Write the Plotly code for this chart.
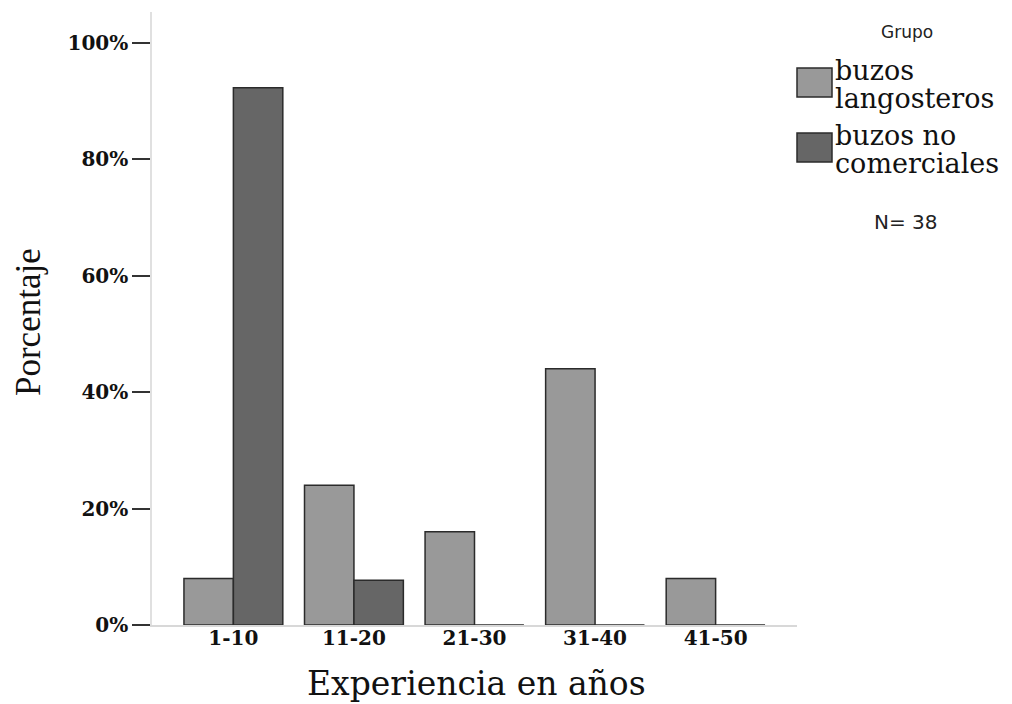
import plotly.graph_objects as go

categories = ["1-10", "11-20", "21-30", "31-40", "41-50"]
series_names = ["buzos langosteros", "buzos no comerciales"]
legend_lines = [["buzos", "langosteros"], ["buzos no", "comerciales"]]
langosteros = [8.0, 24.0, 16.0, 44.0, 8.0]
no_comerciales = [92.3, 7.7, 0.0, 0.0, 0.0]
colors = ["#999999", "#666666"]
y_ticks = [0, 20, 40, 60, 80, 100]
y_ticklabels = ["0%", "20%", "40%", "60%", "80%", "100%"]
n_total = 38

fig = go.Figure()
for name, vals, col in zip(series_names, [langosteros, no_comerciales], colors):
    fig.add_trace(go.Bar(
        x=categories, y=vals, name=name,
        marker=dict(color=col, line=dict(color="#2b2b2b", width=1.5)),
        showlegend=False,
    ))

serif = "DejaVu Serif"
sans = "DejaVu Sans"

# page body has an 8px margin: plot area sits at window x 152..797, y 12..625
fig.update_layout(
    width=1012, height=704,
    margin=dict(l=144, r=223, t=4, b=87),
    paper_bgcolor="white", plot_bgcolor="white",
    barmode="group", bargap=0.18, bargroupgap=0,
    xaxis=dict(
        range=[-0.675, 4.675], showline=True, linecolor="#d8d8d8", linewidth=1.5,
        ticks="", showgrid=False, zeroline=False, ticklabelstandoff=-6,
        tickfont=dict(family=serif, size=20, color="#111111", weight="bold"),
    ),
    yaxis=dict(
        range=[0, 105.3], showline=True, linecolor="#e0e0e0", linewidth=1.5,
        tickvals=y_ticks, ticktext=y_ticklabels, ticks="outside", ticklen=18,
        tickcolor="#333333", tickwidth=2, showgrid=False, zeroline=False,
        tickfont=dict(family=serif, size=20, color="#111111", weight="bold"),
    ),
)

def px_x(X):
    return (X - 152) / 645

def px_y(Y):
    return 1 - (Y - 12) / 613

# axis titles
fig.add_annotation(xref="paper", yref="paper", x=px_x(476), y=px_y(683),
                   text="Experiencia en años", showarrow=False, xanchor="center", yanchor="middle",
                   font=dict(family=serif, size=33, color="#111111"))
fig.add_annotation(xref="paper", yref="paper", x=px_x(28), y=px_y(322), textangle=-90,
                   text="Porcentaje", showarrow=False, xanchor="center", yanchor="middle",
                   font=dict(family="Liberation Serif", size=35, color="#111111"))

# custom legend
swatch_tops = [68, 133]
line_centers = [[70, 98], [135, 163]]
for lines, col, top, centers in zip(legend_lines, colors, swatch_tops, line_centers):
    fig.add_shape(type="rect", xref="paper", yref="paper",
                  x0=px_x(797), x1=px_x(832), y0=px_y(top), y1=px_y(top + 29),
                  fillcolor=col, line=dict(color="#2b2b2b", width=1.5))
    for txt, cy in zip(lines, centers):
        fig.add_annotation(xref="paper", yref="paper", x=px_x(834), y=px_y(cy),
                           xanchor="left", yanchor="middle", align="left",
                           text=txt, showarrow=False, borderpad=0,
                           font=dict(family=serif, size=27, color="#111111"))

fig.add_annotation(xref="paper", yref="paper", x=px_x(907), y=px_y(32),
                   text="Grupo", showarrow=False, xanchor="center", yanchor="middle",
                   font=dict(family=sans, size=17, color="#222222"))
fig.add_annotation(xref="paper", yref="paper", x=px_x(906), y=px_y(222),
                   text=f"N= {n_total}", showarrow=False, xanchor="center", yanchor="middle",
                   font=dict(family=sans, size=20, color="#222222"))

fig.write_html("out.html")
